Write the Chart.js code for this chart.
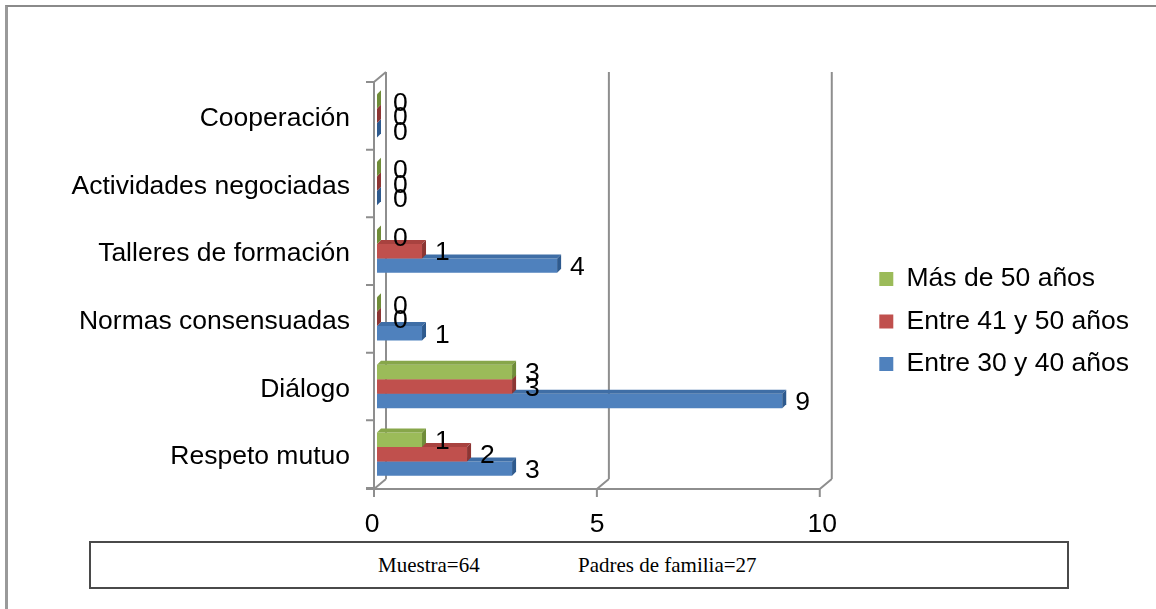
<!DOCTYPE html>
<html>
<head>
<meta charset="utf-8">
<script src="https://cdn.jsdelivr.net/npm/chart.js@4.4.1/dist/chart.umd.min.js"></script>
<style>
  html, body { margin: 0; padding: 0; background: #fff; }
  #wrap { position: relative; width: 1156px; height: 609px; overflow: hidden; background: #fff; }
  #frame { position: absolute; left: 5px; top: 5px; width: 1151px; height: 604px;
           border-top: 2px solid #8a8a8a; border-left: 3px solid #9a9a9a; box-sizing: border-box; }
  #chart { position: absolute; left: 0; top: 0; }
  #note { position: absolute; left: 89px; top: 541px; width: 980px; height: 48px;
          border: 2px solid #4a4a4a; box-sizing: border-box; background: #fff;
          font-family: "Liberation Serif", "Times New Roman", serif; font-size: 21px; color: #000; }
  #note span { position: absolute; top: 0; line-height: 44px; white-space: nowrap; }
</style>
</head>
<body>
<div id="wrap">
  <div id="frame"></div>
  <canvas id="chart" width="1156" height="609"></canvas>
  <div id="note"><span style="left:287px">Muestra=64</span><span style="left:487px">Padres de familia=27</span></div>
</div>
<script>
// Categories, top to bottom
const categories = ['Cooperación', 'Actividades negociadas', 'Talleres de formación',
                    'Normas consensuadas', 'Diálogo', 'Respeto mutuo'];
// Age groups (legend order)
const seriesNames = ['Más de 50 años', 'Entre 41 y 50 años', 'Entre 30 y 40 años'];
const masDe50    = [0, 0, 0, 0, 3, 1];
const entre41y50 = [0, 0, 1, 0, 3, 2];
const entre30y40 = [0, 0, 4, 1, 9, 3];
const xTicks = [0, 5, 10];

const frontColors = ['#9BBB59', '#C0504D', '#4F81BD'];
const topColors   = ['#87A64A', '#A8423F', '#3F6EA6'];
const sideColors  = ['#6F8C38', '#8C3533', '#2E5A8E'];

const FONT = { family: '"Liberation Sans", Arial, sans-serif', size: 26.5 };
const AXIS_GRAY = '#8e8e8e';
const DEPTH = 4;

// Box-like walls and floor behind the bars
const frame3d = {
  id: 'frame3d',
  beforeDatasetsDraw(chart) {
    const ctx = chart.ctx, xs = chart.scales.x, ys = chart.scales.y;
    const area = chart.chartArea;
    const p0 = xs.getPixelForValue(0);
    const front = v => p0 - 3 + (xs.getPixelForValue(v) - p0) * 0.99;
    const DX = 12, DY = 10;
    const top = area.top, axisY = area.bottom + 1;
    ctx.save();
    ctx.strokeStyle = AXIS_GRAY;
    ctx.lineWidth = 2;
    ctx.beginPath();
    xTicks.forEach(v => {
      const fx = front(v);
      // back wall gridline
      ctx.moveTo(fx + DX, top - DY); ctx.lineTo(fx + DX, axisY - DY);
      // floor edge
      ctx.moveTo(fx, axisY); ctx.lineTo(fx + DX, axisY - DY);
      // tick mark
      ctx.moveTo(fx, axisY); ctx.lineTo(fx, axisY + 8);
    });
    // front value axis
    ctx.moveTo(front(0) - 8, axisY); ctx.lineTo(front(xTicks[xTicks.length - 1]), axisY);
    // left wall front edge and top edge
    ctx.moveTo(front(0), top); ctx.lineTo(front(0), axisY);
    ctx.moveTo(front(0), top); ctx.lineTo(front(0) + DX, top - DY);
    // category tick marks
    const step = ys.getPixelForValue(1) - ys.getPixelForValue(0);
    for (let i = 0; i <= categories.length; i++) {
      const y = ys.getPixelForValue(0) - step / 2 + i * step;
      ctx.moveTo(front(0) - 8, y); ctx.lineTo(front(0), y);
    }
    ctx.stroke();
    ctx.restore();
  }
};

// Top and side faces that give each bar depth
const bar3d = {
  id: 'bar3d',
  afterDatasetDraw(chart, args) {
    const ctx = chart.ctx, meta = args.meta, i = args.index;
    ctx.save();
    meta.data.forEach(el => {
      const { x, y, base, height } = el.getProps(['x', 'y', 'base', 'height'], true);
      const t = y - height / 2, b = y + height / 2;
      ctx.fillStyle = topColors[i];
      ctx.beginPath();
      ctx.moveTo(base, t); ctx.lineTo(x, t); ctx.lineTo(x + DEPTH, t - DEPTH); ctx.lineTo(base + DEPTH, t - DEPTH);
      ctx.closePath(); ctx.fill();
      ctx.fillStyle = sideColors[i];
      ctx.beginPath();
      ctx.moveTo(x, t); ctx.lineTo(x + DEPTH, t - DEPTH); ctx.lineTo(x + DEPTH, b - DEPTH); ctx.lineTo(x, b);
      ctx.closePath(); ctx.fill();
    });
    ctx.restore();
  }
};

// Value labels at the end of each bar
const valueLabels = {
  id: 'valueLabels',
  afterDatasetsDraw(chart) {
    const ctx = chart.ctx;
    ctx.save();
    ctx.font = FONT.size + 'px ' + FONT.family;
    ctx.fillStyle = '#000';
    ctx.textAlign = 'left';
    ctx.textBaseline = 'middle';
    chart.data.datasets.forEach((ds, di) => {
      chart.getDatasetMeta(di).data.forEach((el, k) => {
        const v = ds.data[k];
        ctx.fillText(String(v), el.x + (v === 0 ? 16 : 13), el.y + 2);
      });
    });
    ctx.restore();
  }
};

new Chart(document.getElementById('chart'), {
  type: 'bar',
  data: {
    labels: categories,
    datasets: [
      { label: seriesNames[0], data: masDe50,    backgroundColor: frontColors[0] },
      { label: seriesNames[1], data: entre41y50, backgroundColor: frontColors[1] },
      { label: seriesNames[2], data: entre30y40, backgroundColor: frontColors[2] }
    ]
  },
  options: {
    indexAxis: 'y',
    responsive: false,
    animation: false,
    devicePixelRatio: 1,
    layout: { padding: { top: 82, bottom: 48, left: 0, right: 17 } },
    datasets: { bar: { categoryPercentage: 0.64, barPercentage: 1, borderWidth: 0 } },
    scales: {
      x: {
        min: 0, max: 10.8,
        grid: { display: false, drawTicks: false },
        border: { display: false },
        ticks: { stepSize: 5, includeBounds: false, padding: 21, labelOffset: -5, font: FONT, color: '#000' },
        afterFit: s => { s.height = 73; }
      },
      y: {
        grid: { display: false, drawTicks: false },
        border: { display: false },
        ticks: { padding: 27, labelOffset: 3, font: FONT, color: '#000', autoSkip: false },
        afterFit: s => { s.width = 377; }
      }
    },
    plugins: {
      legend: {
        position: 'right', align: 'center',
        labels: { boxWidth: 14, boxHeight: 14, padding: 16, font: FONT, color: '#000' }
      },
      tooltip: { enabled: false }
    }
  },
  plugins: [frame3d, bar3d, valueLabels]
});
</script>
</body>
</html>
